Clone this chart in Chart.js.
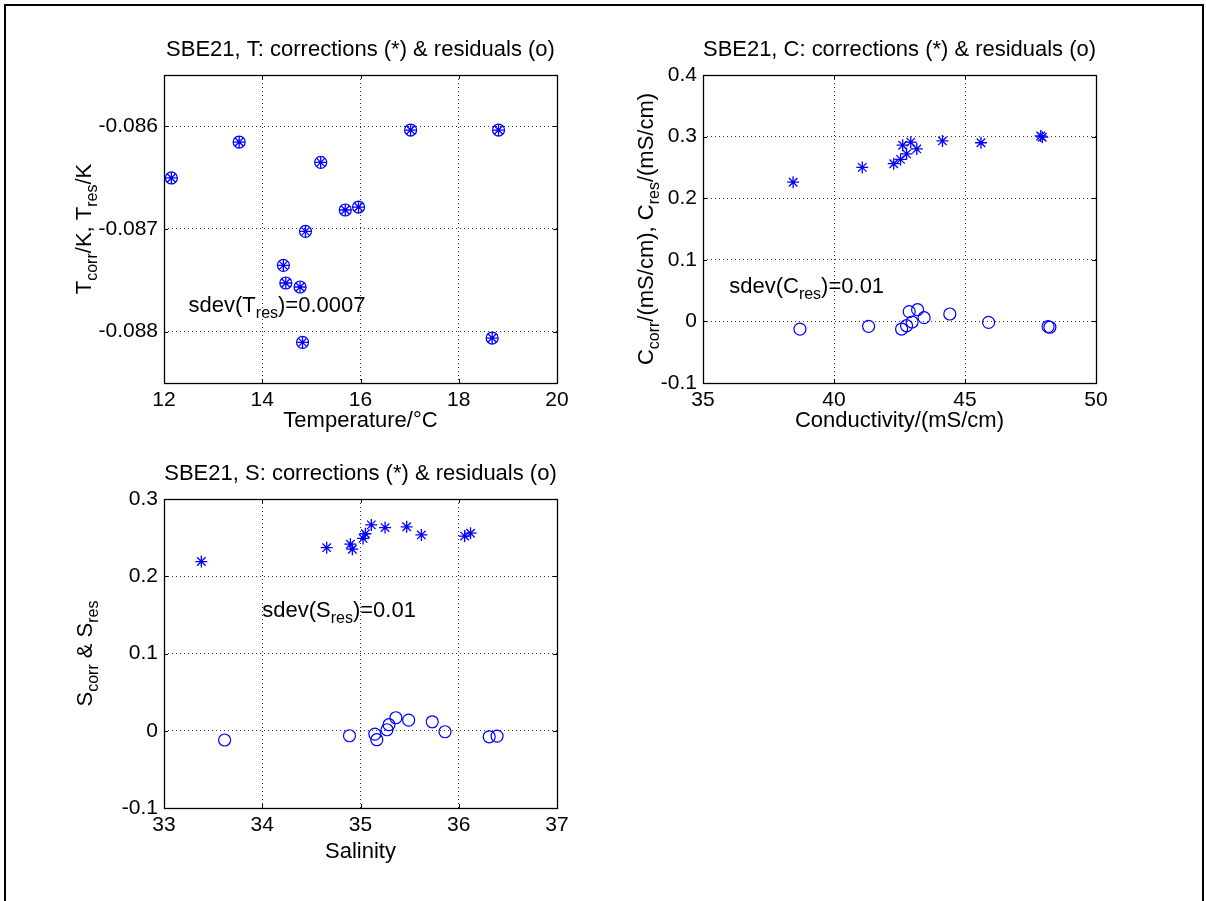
<!DOCTYPE html>
<html>
<head>
<meta charset="utf-8">
<script src="https://cdn.jsdelivr.net/npm/chart.js@4.4.0/dist/chart.umd.min.js"></script>
<style>
  body { margin: 0; background: #fff; }
  #page { position: relative; width: 1206px; height: 901px; overflow: hidden; background: #fff; }
  #frame { position: absolute; left: 4px; top: 4px; width: 1196px; height: 920px; border: 2px solid #000; }
  canvas { position: absolute; }
</style>
</head>
<body>
<div id="page">
  <div id="frame"></div>
  <canvas id="tPlot" width="620" height="460" style="left:0px;top:0px"></canvas>
  <canvas id="cPlot" width="620" height="460" style="left:540px;top:0px"></canvas>
  <canvas id="sPlot" width="620" height="460" style="left:0px;top:420px"></canvas>
</div>
<script>
// temperature panel
const tempX = [12.15, 13.53, 15.19, 17.02, 18.81, 15.69, 15.96, 14.88, 14.43, 14.48, 14.77, 14.82, 18.68];
const tempCorr = [-0.086503, -0.086153, -0.086351, -0.086036, -0.086036, -0.086815, -0.086786, -0.087023, -0.087354, -0.087526, -0.087565, -0.088104, -0.088062];
const tempRes = [-0.086503, -0.086153, -0.086351, -0.086036, -0.086036, -0.086815, -0.086786, -0.087023, -0.087354, -0.087526, -0.087565, -0.088104, -0.088062];
const tempXTicks = [12, 14, 16, 18, 20];
const tempYTicks = [-0.088, -0.087, -0.086];
const tempYLim = [-0.0885, -0.0855];

// conductivity panel
const condCorrX = [38.44, 41.08, 42.28, 42.54, 42.77, 42.62, 42.93, 43.16, 44.14, 45.61, 47.89, 47.95];
const condCorr = [0.226, 0.250, 0.256, 0.263, 0.272, 0.286, 0.291, 0.280, 0.293, 0.290, 0.301, 0.299];
const condResX = [38.70, 41.32, 42.58, 42.77, 42.87, 42.98, 43.19, 43.44, 44.42, 45.90, 48.17, 48.24];
const condRes = [-0.0125, -0.008, -0.0124, -0.007, 0.0158, -0.001, 0.019, 0.006, 0.012, -0.0016, -0.0085, -0.0095];
const condXTicks = [35, 40, 45, 50];
const condYTicks = [-0.1, 0, 0.1, 0.2, 0.3, 0.4];

// salinity panel
const salCorrX = [33.38, 34.656, 34.897, 34.917, 35.026, 35.05, 35.11, 35.25, 35.47, 35.62, 36.06, 36.12];
const salCorr = [0.219, 0.237, 0.2415, 0.235, 0.249, 0.255, 0.2665, 0.263, 0.264, 0.2535, 0.252, 0.2557];
const salResX = [33.617, 34.888, 35.146, 35.166, 35.27, 35.29, 35.36, 35.49, 35.73, 35.86, 36.31, 36.39];
const salRes = [-0.012, -0.0065, -0.0043, -0.0116, 0.0013, 0.0078, 0.0168, 0.0138, 0.0116, -0.0013, -0.0078, -0.0069];
const salXTicks = [33, 34, 35, 36, 37];
const salYTicks = [-0.1, 0, 0.1, 0.2, 0.3];

const FONT = "'Liberation Sans', Arial, Helvetica, sans-serif";
const BLUE = "#0000ff";

function pairs(xs, ys) {
  return xs.map((x, i) => ({ x: x, y: ys[i] }));
}

// draws text made of normal and subscript pieces
function drawRich(ctx, parts, x, y, align) {
  const big = "22px " + FONT, small = "16px " + FONT;
  let w = 0;
  parts.forEach(p => { ctx.font = p[1] ? small : big; w += ctx.measureText(p[0]).width; });
  let cx = align === "center" ? x - w / 2 : x;
  ctx.textBaseline = "middle";
  ctx.textAlign = "left";
  parts.forEach(p => {
    ctx.font = p[1] ? small : big;
    ctx.fillText(p[0], cx, p[1] ? y + 8 : y);
    cx += ctx.measureText(p[0]).width;
  });
}

const matlabAxes = {
  id: "matlabAxes",
  afterDraw(chart, args, opts) {
    const ctx = chart.ctx;
    const a = chart.chartArea;
    const xs = chart.scales.x, ys = chart.scales.y;
    ctx.save();
    ctx.strokeStyle = "#000";
    ctx.lineWidth = 1;
    ctx.beginPath();
    xs.ticks.forEach(t => {
      const px = Math.round(xs.getPixelForValue(t.value)) + 0.5;
      ctx.moveTo(px, a.bottom); ctx.lineTo(px, a.bottom - 4);
      ctx.moveTo(px, a.top); ctx.lineTo(px, a.top + 4);
    });
    ys.ticks.forEach(t => {
      const py = Math.round(ys.getPixelForValue(t.value)) + 0.5;
      ctx.moveTo(a.left, py); ctx.lineTo(a.left + 4, py);
      ctx.moveTo(a.right, py); ctx.lineTo(a.right - 4, py);
    });
    ctx.stroke();
    ctx.lineWidth = 1.3;
    ctx.strokeRect(Math.round(a.left) + 0.5, Math.round(a.top) + 0.5, Math.round(a.right - a.left), Math.round(a.bottom - a.top));

    ctx.fillStyle = "#000";
    // y label with subscripts
    ctx.save();
    ctx.translate(opts.ylabelX, (a.top + a.bottom) / 2);
    ctx.rotate(-Math.PI / 2);
    drawRich(ctx, opts.ylabel, 0, 0, "center");
    ctx.restore();
    // sdev note
    const n = opts.note;
    drawRich(ctx, n.parts, xs.getPixelForValue(n.x), ys.getPixelForValue(n.y), "left");
    ctx.restore();
  }
};

function makeChart(id, cfg) {
  const areaTop = cfg.areaTop;
  return new Chart(document.getElementById(id), {
    type: "scatter",
    data: {
      datasets: [
        { data: cfg.corr, pointStyle: "star", pointRadius: 6, pointBorderColor: BLUE, pointBorderWidth: 1.3, pointBackgroundColor: BLUE },
        { data: cfg.res, pointStyle: "circle", pointRadius: 6, pointBorderColor: BLUE, pointBorderWidth: 1.2, pointBackgroundColor: "rgba(0,0,0,0)" }
      ]
    },
    options: {
      responsive: false,
      animation: false,
      events: [],
      layout: { padding: { left: 0, top: 0, right: cfg.padRight, bottom: 0 } },
      plugins: {
        legend: { display: false },
        tooltip: { enabled: false },
        title: {
          display: true,
          text: cfg.title,
          fullSize: false,
          color: "#000",
          font: { family: FONT, size: 22, weight: "normal", lineHeight: 1.2 },
          padding: { top: cfg.titleCenter - 13.2, bottom: areaTop - cfg.titleCenter - 13.2 }
        },
        matlabAxes: { ylabel: cfg.ylabel, ylabelX: cfg.ylabelX, note: cfg.note }
      },
      scales: {
        x: {
          type: "linear",
          min: cfg.xTicks[0],
          max: cfg.xTicks[cfg.xTicks.length - 1],
          afterBuildTicks: s => { s.ticks = cfg.xTicks.map(v => ({ value: v })); },
          afterFit: s => { s.height = cfg.xHeight; },
          grid: { color: "rgba(0,0,0,0.8)", lineWidth: 1, drawTicks: false },
          border: { display: false, dash: [1, 3] },
          ticks: { color: "#000", padding: 5, maxRotation: 0, font: { family: FONT, size: 21 }, callback: v => String(v) },
          title: { display: true, text: cfg.xlabel, color: "#000", font: { family: FONT, size: 22 }, padding: { top: 0, bottom: cfg.xTitlePad } }
        },
        y: {
          type: "linear",
          min: cfg.yLim[0],
          max: cfg.yLim[1],
          afterBuildTicks: s => { s.ticks = cfg.yTicks.map(v => ({ value: v })); },
          afterFit: s => { s.width = cfg.yWidth; },
          grid: { color: "rgba(0,0,0,0.8)", lineWidth: 1, drawTicks: false },
          border: { display: false, dash: [1, 3] },
          ticks: { color: "#000", padding: 6, font: { family: FONT, size: 21 }, callback: cfg.yFmt }
        }
      }
    },
    plugins: [matlabAxes]
  });
}

makeChart("tPlot", {
  corr: pairs(tempX, tempCorr), res: pairs(tempX, tempRes),
  xTicks: tempXTicks, yTicks: tempYTicks, yLim: tempYLim,
  title: "SBE21, T: corrections (*) & residuals (o)",
  xlabel: "Temperature/\u00b0C",
  ylabel: [["T", false], ["corr", true], ["/K, T", false], ["res", true], ["/K", false]],
  ylabelX: 85,
  note: { x: 12.5, y: -0.08775, parts: [["sdev(T", false], ["res", true], [")=0.0007", false]] },
  yFmt: v => v.toFixed(3),
  areaTop: 75, titleCenter: 50, padRight: 63, yWidth: 164, xHeight: 77, xTitlePad: 26
});

makeChart("cPlot", {
  corr: pairs(condCorrX, condCorr), res: pairs(condResX, condRes),
  xTicks: condXTicks, yTicks: condYTicks, yLim: [condYTicks[0], condYTicks[condYTicks.length - 1]],
  title: "SBE21, C: corrections (*) & residuals (o)",
  xlabel: "Conductivity/(mS/cm)",
  ylabel: [["C", false], ["corr", true], ["/(mS/cm), C", false], ["res", true], ["/(mS/cm)", false]],
  ylabelX: 107,
  note: { x: 36, y: 0.056, parts: [["sdev(C", false], ["res", true], [")=0.01", false]] },
  yFmt: v => String(v),
  areaTop: 75, titleCenter: 50, padRight: 64, yWidth: 163, xHeight: 77, xTitlePad: 26
});

makeChart("sPlot", {
  corr: pairs(salCorrX, salCorr), res: pairs(salResX, salRes),
  xTicks: salXTicks, yTicks: salYTicks, yLim: [salYTicks[0], salYTicks[salYTicks.length - 1]],
  title: "SBE21, S: corrections (*) & residuals (o)",
  xlabel: "Salinity",
  ylabel: [["S", false], ["corr", true], [" & S", false], ["res", true]],
  ylabelX: 86,
  note: { x: 34, y: 0.155, parts: [["sdev(S", false], ["res", true], [")=0.01", false]] },
  yFmt: v => String(v),
  areaTop: 79, titleCenter: 54, padRight: 63, yWidth: 164, xHeight: 72, xTitlePad: 15
});
</script>
</body>
</html>
